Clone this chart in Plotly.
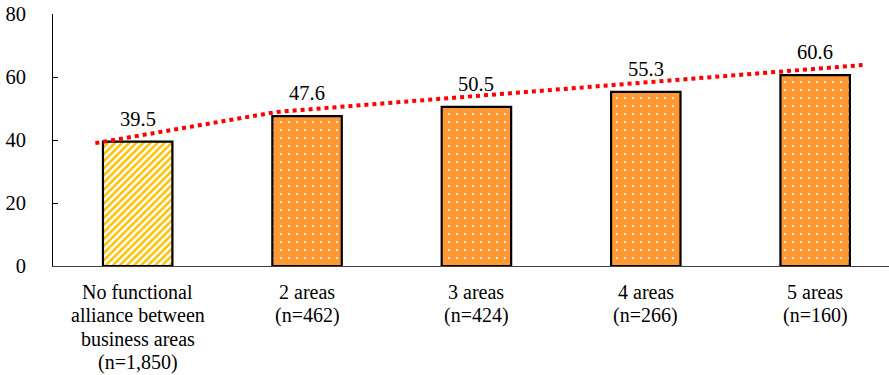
import plotly.graph_objects as go

# Share of firms (%) by number of business areas in a functional alliance
categories = [
    "No functional<br>alliance between<br>business areas<br>(n=1,850)",
    "2 areas<br>(n=462)",
    "3 areas<br>(n=424)",
    "4 areas<br>(n=266)",
    "5 areas<br>(n=160)",
]
values = [39.5, 47.6, 50.5, 55.3, 60.6]
value_labels = ["39.5", "47.6", "50.5", "55.3", "60.6"]

# Trend line (category position, value)
trend_x = [-0.25, 0.82, 4.28]
trend_y = [39.0, 48.9, 63.8]

y_ticks = [0, 20, 40, 60, 80]

FONT = "Liberation Serif"
positions = list(range(len(categories)))

fig = go.Figure()

# First bar: gold diagonal hatching
fig.add_trace(go.Bar(
    x=positions[:1], y=values[:1], width=0.41,
    marker=dict(
        color="white",
        line=dict(color="black", width=2.2),
        pattern=dict(shape="/", bgcolor="white", fgcolor="#FFC000",
                     size=5, solidity=0.5, fillmode="replace"),
    ),
    hoverinfo="skip",
))

# Remaining bars: orange with a white dot grid
fig.add_trace(go.Bar(
    x=positions[1:], y=values[1:], width=0.41,
    marker=dict(
        color="#FF9933",
        line=dict(color="black", width=2.2),
        pattern=dict(shape=".", bgcolor="#FF9933", fgcolor="white",
                     size=8, solidity=0.06, fillmode="replace"),
    ),
    hoverinfo="skip",
))

# Red dotted trend line
fig.add_trace(go.Scatter(
    x=trend_x, y=trend_y, mode="lines",
    line=dict(color="#FF0000", width=4, dash="dot"),
    hoverinfo="skip",
))

# Value labels above bars
for xi, v, lab in zip(positions, values, value_labels):
    fig.add_annotation(
        x=xi, y=v, text=lab, showarrow=False,
        yanchor="middle", yshift=23,
        font=dict(family=FONT, size=20.5, color="black"),
    )

# Category labels under the axis, one line at a time (tight line spacing)
LINE_STEP = 23.4
for xi, cat in zip(positions, categories):
    for k, line in enumerate(cat.split("<br>")):
        fig.add_annotation(
            x=xi, y=0, text=line, showarrow=False,
            yanchor="middle", yshift=-26 - k * LINE_STEP,
            font=dict(family=FONT, size=20, color="black"),
        )

fig.update_layout(
    width=889, height=375,
    margin=dict(l=53, r=0, t=14, b=109),
    paper_bgcolor="white", plot_bgcolor="white",
    showlegend=False, barmode="overlay",
    font=dict(family=FONT, size=20, color="black"),
    xaxis=dict(
        range=[-0.5, 4.436],
        tickmode="array", tickvals=positions, showticklabels=False,
        showgrid=False, zeroline=False, ticks="",
        showline=True, linecolor="#404040", linewidth=1,
    ),
    yaxis=dict(
        range=[0, 80],
        tickmode="array", tickvals=y_ticks,
        showgrid=False, zeroline=False,
        ticks="inside", ticklen=5, tickcolor="black", tickwidth=1,
        showline=True, linecolor="black", linewidth=1,
        ticklabelstandoff=22,
        tickfont=dict(family=FONT, size=20.5, color="black"),
    ),
)

fig.write_html("out.html")
